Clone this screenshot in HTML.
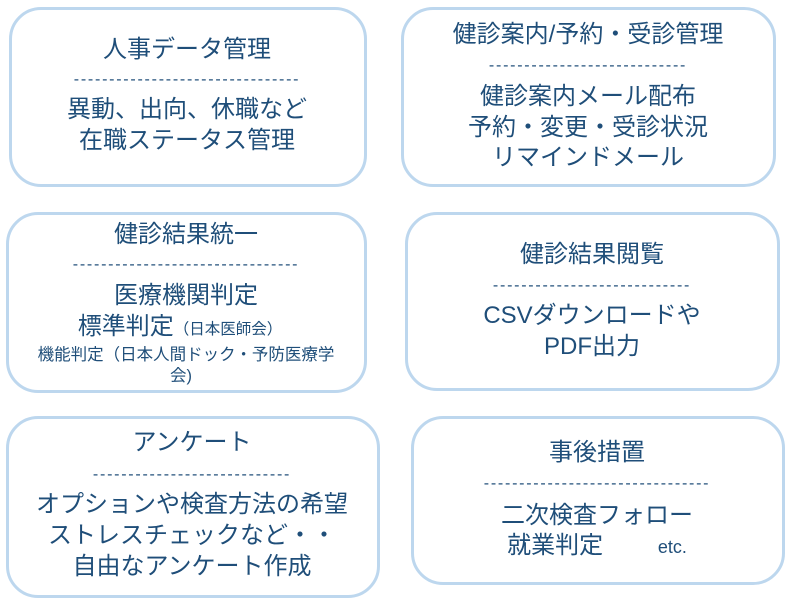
<!DOCTYPE html>
<html><head><meta charset="utf-8"><style>
html,body{margin:0;padding:0;background:#fff;}
body{width:790px;height:600px;position:relative;overflow:hidden;font-family:"Liberation Sans","Noto Sans CJK JP",sans-serif;color:#1f4e79;}
.b{position:absolute;border:3px solid #bdd7ee;border-radius:32px;box-sizing:border-box;background:#fff;}
.t{position:absolute;transform:translate(-50%,-50%);white-space:nowrap;font-size:24px;font-weight:400;line-height:1;}
.d{position:absolute;transform:translate(-50%,-50%);white-space:nowrap;font-size:16px;line-height:1;letter-spacing:1.75px;}
.s{font-size:15.5px;font-weight:400;}
.m{font-size:16.5px;}
</style></head><body>
<div class="b" style="left:9px;top:7px;width:358px;height:180px"></div>
<div class="b" style="left:401px;top:7px;width:375px;height:180px"></div>
<div class="b" style="left:6px;top:212px;width:361px;height:181px"></div>
<div class="b" style="left:405px;top:212px;width:375px;height:179px"></div>
<div class="b" style="left:6px;top:416px;width:374px;height:182px"></div>
<div class="b" style="left:411px;top:416px;width:374px;height:169px"></div>

<div class="t" style="left:187px;top:50px">人事データ管理</div>
<div class="d" style="left:187px;top:80px">--------------------------------</div>
<div class="t" style="left:187px;top:110px">異動、出向、休職など</div>
<div class="t" style="left:187px;top:141px">在職ステータス管理</div>

<div class="t" style="left:588px;top:35px">健診案内/予約・受診管理</div>
<div class="d" style="left:588px;top:66px">----------------------------</div>
<div class="t" style="left:588px;top:97px">健診案内メール配布</div>
<div class="t" style="left:588px;top:128px">予約・変更・受診状況</div>
<div class="t" style="left:588px;top:158px">リマインドメール</div>

<div class="t" style="left:186px;top:235px">健診結果統一</div>
<div class="d" style="left:186px;top:265px">--------------------------------</div>
<div class="t" style="left:186px;top:296px">医療機関判定</div>
<div class="t" style="left:180px;top:327px">標準判定<span class="s">（日本医師会）</span></div>
<div class="t m" style="left:186px;top:355px">機能判定（日本人間ドック・予防医療学</div>
<div class="t m" style="left:181px;top:376px">会)</div>

<div class="t" style="left:592px;top:255px">健診結果閲覧</div>
<div class="d" style="left:592px;top:286px">----------------------------</div>
<div class="t" style="left:592px;top:316px">CSVダウンロードや</div>
<div class="t" style="left:592px;top:347px">PDF出力</div>

<div class="t" style="left:192px;top:443px">アンケート</div>
<div class="d" style="left:192px;top:475px">----------------------------</div>
<div class="t" style="left:192px;top:505px">オプションや検査方法の希望</div>
<div class="t" style="left:192px;top:536px">ストレスチェックなど・・</div>
<div class="t" style="left:192px;top:567px">自由なアンケート作成</div>

<div class="t" style="left:597px;top:453px">事後措置</div>
<div class="d" style="left:597px;top:484px">--------------------------------</div>
<div class="t" style="left:597px;top:516px">二次検査フォロー</div>
<div class="t" style="left:597px;top:546px">就業判定　　 <span style="font-size:18px">etc.</span></div>
</body></html>
